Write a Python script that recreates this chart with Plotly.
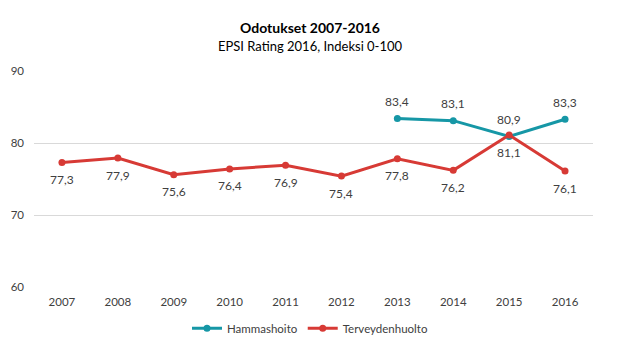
import plotly.graph_objects as go

years = ["2007", "2008", "2009", "2010", "2011", "2012", "2013", "2014", "2015", "2016"]
hammas_years = ["2013", "2014", "2015", "2016"]
hammas = [83.4, 83.1, 80.9, 83.3]
terveys = [77.3, 77.9, 75.6, 76.4, 76.9, 75.4, 77.8, 76.2, 81.1, 76.1]

def fi(v):
    return f"{v:.1f}".replace(".", ",")

font = "Lato, Calibri, sans-serif"
teal = "#1697A6"
red = "#D73A35"
fig = go.Figure()
fig.add_trace(go.Scatter(
    x=hammas_years, y=hammas, name="Hammashoito", mode="lines+markers",
    line=dict(color=teal, width=3), marker=dict(size=7, color=teal)))
fig.add_trace(go.Scatter(
    x=years, y=terveys, name="Terveydenhuolto", mode="lines+markers",
    line=dict(color=red, width=3), marker=dict(size=7, color=red)))

annotations = []
for xv, yv in zip(hammas_years, hammas):
    annotations.append(dict(x=years.index(xv), y=yv, text=fi(yv), showarrow=False, yshift=17,
                            font=dict(size=12, color="#404040", family=font)))
for xv, yv in zip(years, terveys):
    annotations.append(dict(x=years.index(xv), y=yv, text=fi(yv), showarrow=False, yshift=-17,
                            font=dict(size=12, color="#404040", family=font)))

fig.update_layout(
    width=620, height=348, paper_bgcolor="white", plot_bgcolor="white",
    margin=dict(l=34, r=27, t=71, b=61, autoexpand=False),
    font=dict(family=font, size=11, color="#404040"),
    title=dict(text="<b>Odotukset 2007-2016</b><br><span style='font-size:13px'>EPSI Rating 2016, Indeksi 0-100</span>",
               x=0.5, xanchor="center", y=0.905, yanchor="top",
               font=dict(size=14, color="#000000", family=font)),
    xaxis=dict(type="category", categoryorder="array", categoryarray=years,
               range=[-0.5, len(years) - 0.5], ticklabelstandoff=6,
               showgrid=False, showline=False, ticks="", tickfont=dict(size=11.5, color="#404040")),
    yaxis=dict(range=[60, 90], dtick=10, showgrid=True, gridcolor="#D9D9D9", gridwidth=1,
               ticklabelstandoff=9,
               zeroline=False, showline=False, ticks="", tickfont=dict(size=11.5, color="#404040")),
    legend=dict(orientation="h", x=0.5, xanchor="center", xref="container",
                y=0.057, yanchor="middle", yref="container",
                font=dict(size=11.5, color="#404040")),
    annotations=annotations,
)
fig.write_html("out.html")
